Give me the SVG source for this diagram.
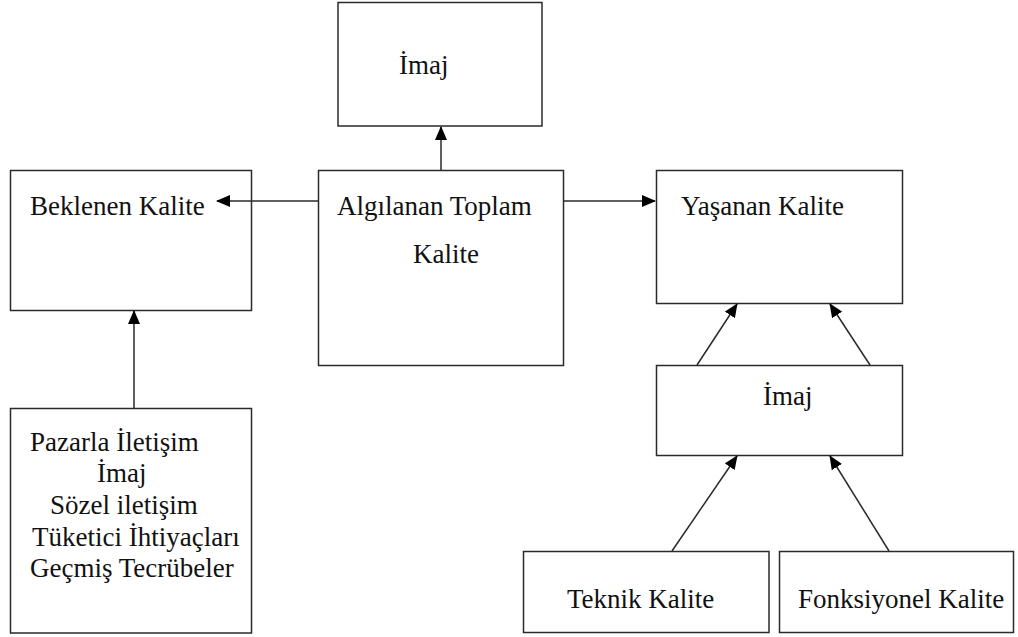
<svg xmlns="http://www.w3.org/2000/svg" width="1018" height="637" viewBox="0 0 1018 637">
<style>
.box{fill:#fff;stroke:#2a2a2a;stroke-width:1.5}
.t{font-family:'Liberation Serif','Times New Roman',serif;font-size:27px;fill:#111}
.c{stroke:#2a2a2a;stroke-width:1.5;fill:none;marker-end:url(#ah)}
</style>
<defs>
<marker id="ah" markerUnits="userSpaceOnUse" markerWidth="14" markerHeight="12" viewBox="0 0 14 12" refX="13" refY="6" orient="auto">
<path d="M0,0 L14,6 L0,12 Z" fill="#000"/>
</marker>
</defs>
<g id="imaj-top">
<rect class="box" x="338" y="2.5" width="204" height="123.5"/>
<text class="t" x="399" y="74">İmaj</text>
</g>
<g id="beklenen">
<rect class="box" x="10.5" y="170.5" width="241" height="140"/>
<text class="t" x="30" y="215">Beklenen Kalite</text>
</g>
<g id="algilanan">
<rect class="box" x="318.5" y="170.5" width="245" height="195"/>
<text class="t" x="337" y="215">Algılanan Toplam</text>
<text class="t" x="413" y="263">Kalite</text>
</g>
<g id="yasanan">
<rect class="box" x="656.5" y="170.5" width="246" height="133"/>
<text class="t" x="681" y="215">Yaşanan Kalite</text>
</g>
<g id="imaj-right">
<rect class="box" x="656.5" y="365.5" width="246" height="90"/>
<text class="t" x="763" y="405">İmaj</text>
</g>
<g id="pazarla">
<rect class="box" x="10.5" y="408.5" width="241" height="224.5"/>
<text class="t" x="30" y="451">Pazarla İletişim</text>
<text class="t" x="97" y="482">İmaj</text>
<text class="t" x="50" y="514">Sözel iletişim</text>
<text class="t" x="32" y="546">Tüketici İhtiyaçları</text>
<text class="t" x="30" y="577">Geçmiş Tecrübeler</text>
</g>
<g id="teknik">
<rect class="box" x="523.5" y="551.5" width="245.5" height="81"/>
<text class="t" x="567" y="608">Teknik Kalite</text>
</g>
<g id="fonksiyonel">
<rect class="box" x="779.5" y="551.5" width="234" height="81"/>
<text class="t" x="798" y="608">Fonksiyonel Kalite</text>
</g>
<g id="connectors">
<line class="c" x1="441" y1="170" x2="441" y2="127"/>
<line class="c" x1="318" y1="201" x2="217" y2="201"/>
<line class="c" x1="564" y1="201" x2="655" y2="201"/>
<line class="c" x1="134" y1="408" x2="134" y2="311"/>
<line class="c" x1="697" y1="365" x2="737" y2="304"/>
<line class="c" x1="870" y1="365" x2="830" y2="304"/>
<line class="c" x1="672" y1="551" x2="737" y2="456"/>
<line class="c" x1="889" y1="551" x2="830" y2="456"/>
</g>
</svg>
